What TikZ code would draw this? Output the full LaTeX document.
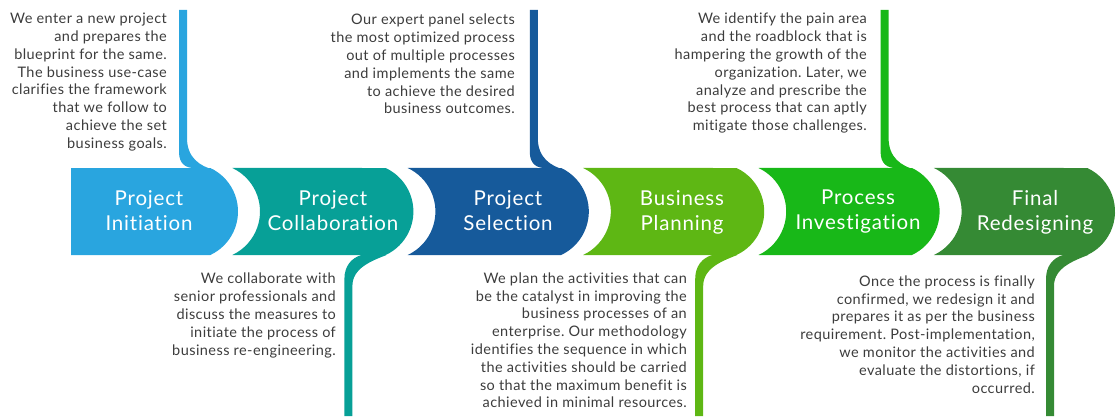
\documentclass[tikz,border=0pt]{standalone}
\usepackage{fontspec}
\setmainfont{Lato}[Ligatures={NoCommon}]
\frenchspacing
\definecolor{cA}{HTML}{29A5DF}
\definecolor{cB}{HTML}{07A097}
\definecolor{cC}{HTML}{165A9B}
\definecolor{cD}{HTML}{5EB714}
\definecolor{cE}{HTML}{18B818}
\definecolor{cF}{HTML}{358A34}
\definecolor{txt}{HTML}{3C3C3C}
\begin{document}
\begin{tikzpicture}[x=1pt,y=1pt,
  desc/.style={font=\fontsize{14.5}{17.8}\selectfont\addfontfeature{LetterSpace=3}\frenchspacing, text=txt, align=right, inner sep=0pt, anchor=north east},
  ttl/.style={font=\fontsize{20.5}{25}\selectfont\addfontfeature{LetterSpace=4}, text=white, align=center, inner sep=0pt, anchor=north}]
\useasboundingbox (0,0) rectangle (1119,416);
% first block
\fill[cA] (71,161) -- (71,248) -- (210.3,248) arc[start angle=65,end angle=-65,radius=48] -- cycle;
% other blocks
\foreach \k/\col in {1/cB,2/cC,3/cD,4/cE,5/cF}{
  \pgfmathsetmacro\R{238+175.4*\k}
  \pgfmathsetmacro\P{238+175.4*(\k-1)}
  \fill[\col] (\P-5.7,161) arc[start angle=-65,end angle=65,radius=48]
     -- (\R-27.7,248) arc[start angle=65,end angle=-65,radius=48] -- cycle;
}
% top connectors
\foreach \k/\col in {0/cA,2/cC,4/cE}{
  \pgfmathsetmacro\R{238+175.4*\k}
  \fill[\col] (\R-59,406) -- (\R-59,264) .. controls (\R-59,252) and (\R-52,248) .. (\R-44,248)
     -- (\R-24,246) .. controls (\R-38,250) and (\R-51,258) .. (\R-51,278) -- (\R-51,406) -- cycle;
}
% bottom connectors
\foreach \k/\col in {1/cB,3/cD,5/cF}{
  \pgfmathsetmacro\R{238+175.4*\k}
  \fill[\col] (\R-69,0) -- (\R-69,137) .. controls (\R-69,150) and (\R-62,158) .. (\R-52,161)
     -- (\R-27,161) .. controls (\R-42,155) and (\R-61,148) .. (\R-61,130) -- (\R-61,0) -- cycle;
}
% titles
\node[ttl] (t1) at (149,226) {Project\\Initiation};
\node[ttl] (t2) at (333,226) {Project\\Collaboration};
\node[ttl] (t3) at (508,226) {Project\\Selection};
\node[ttl] (t4) at (682,226) {Business\\Planning};
\node[ttl] (t5) at (858,226) {Process\\Investigation};
\node[ttl] (t6) at (1035,226) {Final\\Redesigning};
% descriptions
\node[desc] (d1) at (167,403) {We enter a new project\\and prepares the\\blueprint for the same.\\The business use-case\\clarifies the framework\\that we follow to\\achieve the set\\business goals.};
\node[desc] (d3) at (515,402) {Our expert panel selects\\the most optimized process\\out of multiple processes\\and implements the same\\to achieve the desired\\business outcomes.};
\node[desc] (d5) at (867,403) {We identify the pain area\\and the roadblock that is\\hampering the growth of the\\organization. Later, we\\analyze and prescribe the\\best process that can aptly\\mitigate those challenges.};
\node[desc] (d2) at (336,143) {We collaborate with\\senior professionals and\\discuss the measures to\\initiate the process of\\business re-engineering.};
\node[desc] (d4) at (687,143.5) {We plan the activities that can\\be the catalyst in improving the\\business processes of an\\enterprise. Our methodology\\identifies the sequence in which\\the activities should be carried\\so that the maximum benefit is\\achieved in minimal resources.};
\node[desc] (d6) at (1035,140.5) {Once the process is finally\\confirmed, we redesign it and\\prepares it as per the business\\requirement. Post-implementation,\\we monitor the activities and\\evaluate the distortions, if\\occurred.};
\end{tikzpicture}
\end{document}
